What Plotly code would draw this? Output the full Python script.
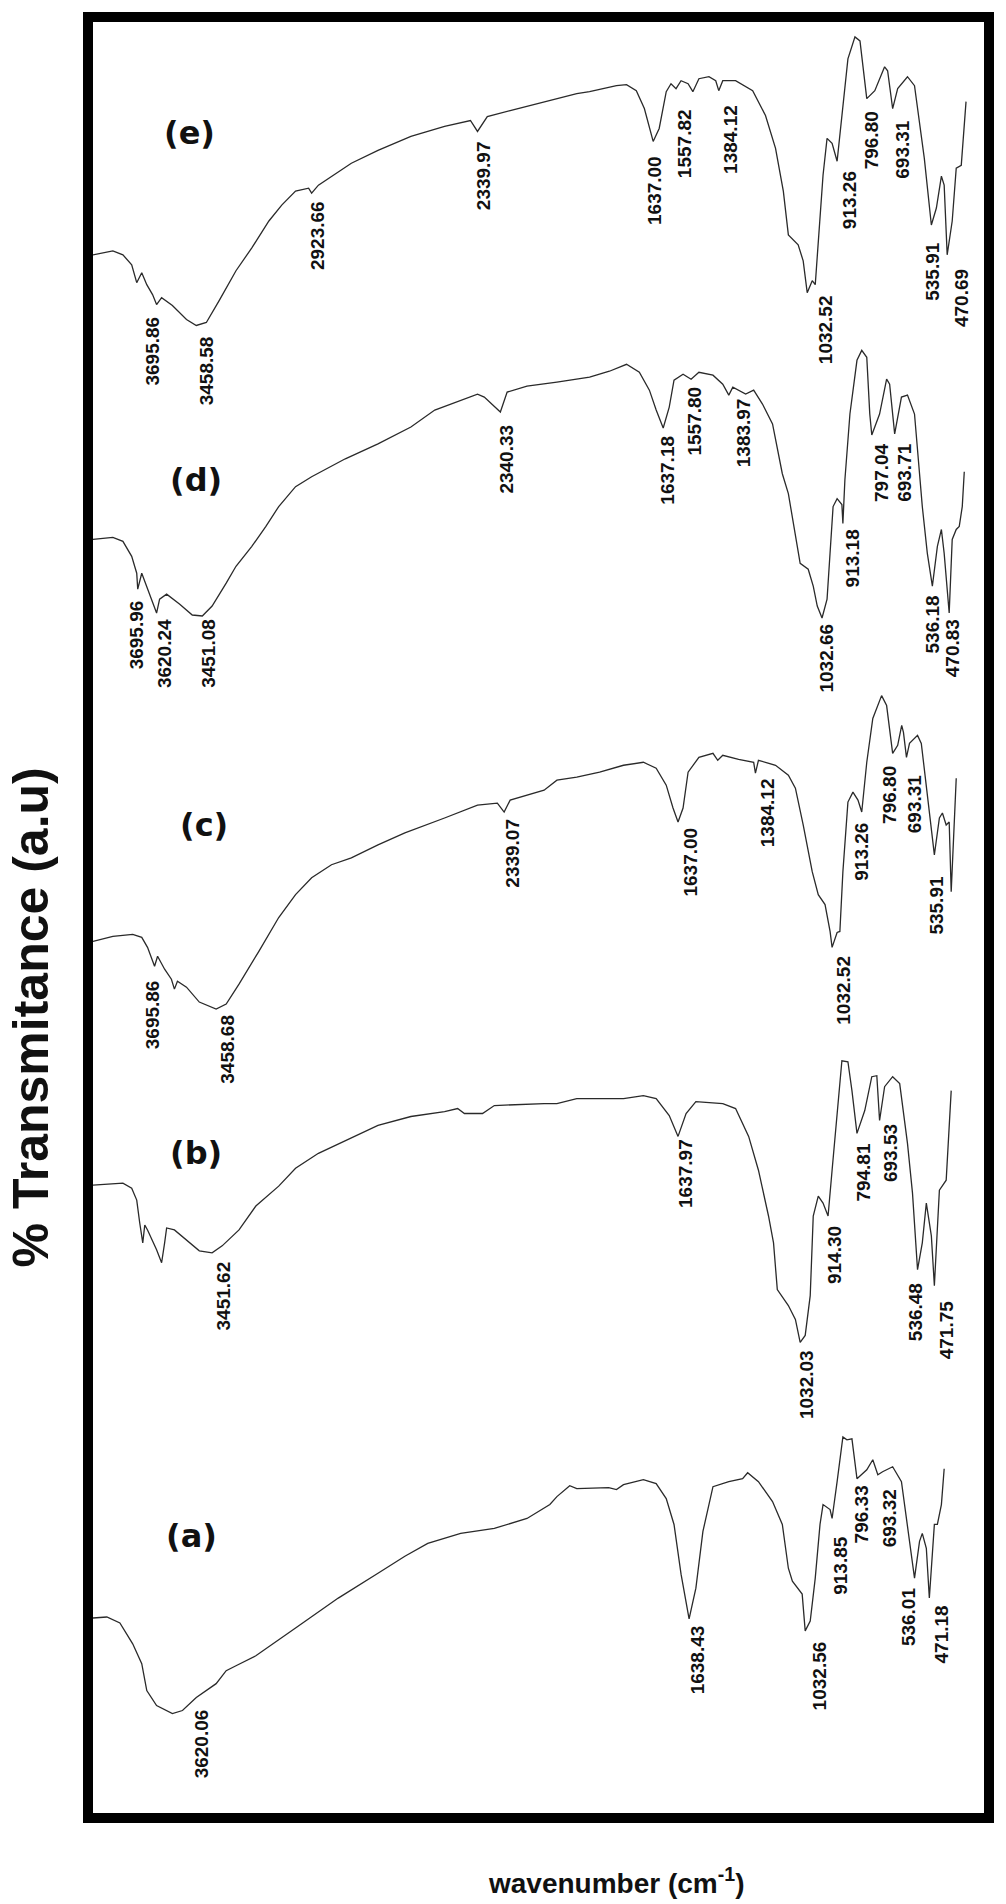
import plotly.graph_objects as go

# ---------------- spectra (wavenumber cm-1, transmittance a.u.) ----------------
wn_e = [3870, 3791, 3751, 3716, 3696, 3676, 3656, 3633, 3617, 3597, 3554, 3498, 3459, 3419, 3368,
        3301, 3238, 3170, 3119, 3064, 3012, 3000, 2973, 2921, 2842, 2736, 2605, 2471, 2368, 2340,
        2301, 2210, 2075, 2024, 1945, 1894, 1787, 1747, 1708, 1676, 1641, 1617, 1589, 1570, 1550,
        1530, 1502, 1483, 1459, 1419, 1392, 1380, 1364, 1313, 1245, 1194, 1154, 1123, 1103, 1064,
        1044, 1028, 1008, 996, 984, 965, 949, 929, 909, 890, 866, 838, 818, 791, 759,
        720, 708, 688, 668, 629, 601, 562, 534, 514, 494, 483, 471, 451, 435, 415, 411, 396]
t_e = [157.3, 157.7, 157.3, 156.3, 154.5, 155.5, 154.3, 153.3, 152.3, 153.0, 152.2, 150.8, 150.2, 150.5, 152.7,
       155.7, 158.0, 160.7, 162.3, 163.7, 164.0, 163.5, 164.3, 165.2, 166.5, 167.8, 169.2, 170.2, 170.8, 169.7,
       171.2, 171.8, 172.7, 173.0, 173.5, 173.7, 174.3, 174.4, 173.8, 172.0, 168.7, 170.0, 173.7, 174.5, 174.0,
       174.8, 174.5, 173.7, 175.0, 175.2, 174.8, 173.8, 174.8, 174.8, 173.8, 171.3, 168.0, 163.7, 159.3, 158.3,
       156.7, 153.5, 154.7, 154.3, 158.7, 165.3, 169.0, 168.5, 166.7, 171.0, 177.0, 179.2, 178.8, 173.0, 173.8,
       176.2, 175.8, 172.0, 174.0, 175.2, 174.3, 167.0, 160.3, 162.0, 165.2, 164.3, 157.3, 160.7, 166.0, 166.3, 167.7, 172.7]

wn_d = [3870, 3791, 3751, 3716, 3696, 3692, 3676, 3656, 3637, 3617, 3605, 3577, 3526, 3475, 3435,
        3396, 3340, 3301, 3238, 3182, 3131, 3064, 3000, 2866, 2736, 2605, 2510, 2407, 2340, 2313,
        2249, 2222, 2143, 2024, 1894, 1815, 1747, 1696, 1656, 1629, 1601, 1577, 1558, 1522, 1490,
        1459, 1403, 1364, 1340, 1324, 1273, 1241, 1206, 1166, 1127, 1103, 1075, 1056, 1024, 1004,
        988, 969, 949, 937, 925, 909, 890, 886, 878, 858, 830, 811, 791, 779, 771,
        740, 712, 700, 680, 653, 629, 601, 570, 550, 530, 510, 494, 483, 463, 451, 435, 423, 411, 403]
t_d = [128.7, 128.9, 128.5, 127.0, 125.3, 123.7, 125.3, 124.0, 122.7, 121.3, 122.7, 123.2, 122.2, 121.1, 121.0,
       122.0, 124.3, 126.0, 128.0, 130.0, 132.0, 134.0, 135.0, 136.8, 138.3, 140.0, 141.7, 142.7, 143.3, 143.0,
       141.5, 143.5, 144.1, 144.5, 145.0, 145.6, 146.3, 145.5, 143.7, 141.7, 139.9, 142.0, 144.7, 145.3, 144.8,
       145.5, 145.2, 144.3, 143.2, 144.0, 143.3, 143.7, 142.3, 140.3, 135.3, 133.3, 129.3, 126.3, 125.7, 124.0,
       122.0, 120.8, 122.7, 127.3, 132.0, 132.8, 132.2, 130.3, 134.7, 141.3, 146.7, 147.7, 147.0, 141.3, 139.2,
       141.3, 144.8, 144.3, 139.3, 143.0, 143.2, 141.3, 132.0, 127.3, 124.0, 128.0, 129.7, 127.3, 121.3, 128.7,
       129.7, 130.0, 132.0, 135.5]

wn_c = [3870, 3791, 3712, 3676, 3653, 3637, 3625, 3613, 3585, 3558, 3546, 3534, 3498, 3447, 3380,
        3340, 3289, 3210, 3131, 3064, 3000, 2921, 2842, 2736, 2629, 2471, 2340, 2261, 2234, 2210,
        2075, 2024, 1945, 1854, 1759, 1680, 1629, 1589, 1562, 1542, 1522, 1502, 1459, 1403, 1384,
        1364, 1301, 1241, 1234, 1222, 1154, 1103, 1075, 1044, 1008, 984, 957, 937, 929, 909,
        898, 886, 866, 846, 826, 811, 791, 767, 732, 712, 700, 688, 668, 652, 645,
        633, 621, 589, 574, 550, 522, 502, 490, 475, 463, 455, 443, 435]
t_c = [88.3, 88.8, 89.0, 88.7, 87.7, 86.7, 85.8, 86.8, 85.5, 84.5, 83.5, 84.3, 83.7, 82.2, 81.5,
       82.0, 84.0, 87.3, 90.7, 93.0, 94.7, 96.0, 96.7, 98.0, 99.2, 100.7, 102.0, 102.2, 101.3, 102.5,
       103.5, 104.5, 104.8, 105.3, 106.0, 106.3, 105.7, 104.0, 101.7, 100.3, 101.7, 105.3, 106.8, 107.2, 106.5,
       107.0, 106.6, 106.3, 105.2, 106.5, 106.0, 105.0, 103.7, 100.0, 95.3, 93.0, 92.0, 89.3, 87.7, 89.2,
       89.3, 95.3, 102.3, 103.3, 102.5, 101.3, 106.3, 110.7, 113.0, 112.0, 109.3, 107.2, 108.0, 110.0, 109.3,
       106.8, 108.2, 109.0, 108.2, 103.0, 97.0, 100.7, 101.2, 100.0, 100.3, 93.3, 100.7, 104.7]

wn_b = [3870, 3751, 3716, 3696, 3684, 3672, 3664, 3653, 3617, 3597, 3585, 3577, 3546, 3498, 3447,
        3396, 3356, 3289, 3222, 3131, 3064, 2973, 2866, 2736, 2605, 2471, 2419, 2392, 2320, 2273,
        2075, 2024, 1945, 1759, 1680, 1629, 1577, 1542, 1510, 1471, 1364, 1313, 1261, 1222, 1182,
        1162, 1147, 1103, 1075, 1056, 1036, 1016, 1004, 984, 965, 945, 929, 909, 890, 866,
        850, 830, 799, 771, 751, 740, 720, 688, 660, 629, 609, 589, 570, 554, 534,
        522, 502, 475, 463, 455]
t_b = [63.8, 64.0, 63.5, 62.3, 60.0, 58.0, 59.8, 59.3, 57.3, 56.0, 58.0, 59.5, 59.3, 58.3, 57.2,
       57.0, 57.7, 59.3, 61.7, 63.7, 65.5, 67.0, 68.3, 69.8, 70.7, 71.2, 71.5, 71.0, 71.0, 71.8,
       72.0, 72.0, 72.5, 72.5, 72.8, 72.5, 70.8, 68.7, 71.0, 72.2, 72.0, 71.5, 68.7, 65.3, 60.7,
       58.0, 53.3, 51.7, 50.3, 48.0, 48.7, 52.7, 60.7, 62.7, 62.0, 60.7, 65.3, 71.3, 76.3, 76.2,
       73.3, 69.0, 71.3, 74.7, 74.8, 70.3, 73.7, 74.7, 74.0, 68.0, 63.0, 55.3, 58.0, 62.0, 58.7,
       53.7, 63.3, 64.3, 69.7, 73.3]

wn_a = [3870, 3815, 3763, 3712, 3676, 3656, 3617, 3554, 3514, 3459, 3380, 3340, 3301, 3222, 3064,
        2894, 2736, 2629, 2538, 2407, 2273, 2143, 2052, 2024, 1973, 1945, 1818, 1787, 1759, 1680,
        1629, 1589, 1558, 1530, 1498, 1471, 1443, 1403, 1340, 1285, 1265, 1222, 1166, 1127, 1103,
        1087, 1048, 1036, 1016, 996, 977, 965, 937, 929, 909, 886, 870, 850, 830, 791,
        767, 747, 728, 688, 653, 629, 601, 581, 570, 554, 542, 522, 510, 494, 483]
t_a = [20.3, 20.4, 19.8, 17.7, 15.7, 13.0, 11.5, 10.7, 11.0, 12.3, 13.7, 15.0, 15.5, 16.5, 19.3,
       22.3, 24.8, 26.5, 27.8, 28.8, 29.3, 30.3, 31.7, 32.5, 33.6, 33.3, 33.4, 33.2, 33.7, 34.2,
       33.8, 32.3, 29.7, 24.7, 20.2, 23.3, 29.0, 33.5, 34.0, 34.3, 34.9, 34.0, 32.0, 29.7, 25.3,
       24.0, 22.7, 19.0, 20.0, 24.3, 29.7, 31.7, 31.2, 30.3, 34.0, 38.5, 38.2, 38.3, 34.3, 35.2,
       36.2, 34.7, 35.0, 35.5, 34.0, 29.7, 24.3, 28.0, 28.8, 27.3, 22.3, 29.7, 29.7, 31.7, 35.3]

# ---------------- peak labels ----------------
peak_text_e = ["3695.86", "3458.58", "2923.66", "2339.97", "1637.00", "1557.82", "1384.12",
               "1032.52", "913.26", "796.80", "693.31", "535.91", "470.69"]
peak_x_e = [3637, 3415, 2977, 2313, 1633, 1518, 1336, 957, 862, 771, 652, 530, 415]
peak_y_e = [151.2, 149.2, 162.8, 168.8, 167.3, 172.0, 172.5, 153.3, 165.8, 171.8, 171.0, 158.7, 156.0]

peak_text_d = ["3695.96", "3620.24", "3451.08", "2340.33", "1637.18", "1557.80", "1383.97",
               "1032.66", "913.18", "797.04", "693.71", "536.18", "470.83"]
peak_x_d = [3696, 3585, 3411, 2226, 1585, 1475, 1281, 953, 846, 732, 641, 530, 451]
peak_y_d = [122.7, 120.8, 120.8, 140.3, 139.2, 144.2, 143.0, 120.3, 129.8, 138.5, 138.5, 123.2, 120.8]

peak_text_c = ["3695.86", "3458.68", "2339.07", "1637.00", "1384.12", "1032.52", "913.26",
               "796.80", "693.31", "535.91"]
peak_x_c = [3633, 3336, 2202, 1494, 1186, 882, 811, 700, 601, 514]
peak_y_c = [84.5, 81.0, 100.7, 99.8, 104.8, 87.0, 100.3, 106.0, 105.2, 95.0]

peak_text_b = ["3451.62", "1637.97", "1032.03", "914.30", "794.81", "693.53", "536.48", "471.75"]
peak_x_b = [3352, 1510, 1028, 917, 803, 696, 597, 475]
peak_y_b = [56.2, 68.5, 47.3, 59.8, 68.2, 70.0, 54.0, 52.3]

peak_text_a = ["3620.06", "1638.43", "1032.56", "913.85", "796.33", "693.32", "536.01", "471.18"]
peak_x_a = [3439, 1463, 981, 894, 811, 700, 625, 494]
peak_y_a = [11.2, 19.7, 18.0, 28.7, 33.7, 33.3, 23.5, 21.7]

sample_names = ["(a)", "(b)", "(c)", "(d)", "(e)"]
sample_x = [3479, 3459, 3427, 3459, 3486]
sample_y = [28.5, 67.0, 100.0, 134.7, 169.5]

x_title = "wavenumber (cm<sup>-1</sup>)"
y_title = "% Transmitance (a.u)"

# ---------------- figure ----------------
fig = go.Figure()
line_style = dict(color="#2a2a2a", width=1.3)
for wn, t in [(wn_a, t_a), (wn_b, t_b), (wn_c, t_c), (wn_d, t_d), (wn_e, t_e)]:
    fig.add_trace(go.Scatter(x=wn, y=t, mode="lines", line=line_style,
                             showlegend=False, hoverinfo="skip"))

annotations = []
label_font = dict(family="Liberation Sans, Arial, sans-serif", size=19, color="#111111",
                  weight="bold")
for texts, xs, ys in [(peak_text_a, peak_x_a, peak_y_a), (peak_text_b, peak_x_b, peak_y_b),
                      (peak_text_c, peak_x_c, peak_y_c), (peak_text_d, peak_x_d, peak_y_d),
                      (peak_text_e, peak_x_e, peak_y_e)]:
    for txt, xv, yv in zip(texts, xs, ys):
        annotations.append(dict(x=xv, y=yv, xref="x", yref="y", text=txt, textangle=-90,
                                xanchor="center", yanchor="top", showarrow=False,
                                font=label_font, borderpad=0))

for name, xv, yv in zip(sample_names, sample_x, sample_y):
    annotations.append(dict(x=xv, y=yv, xref="x", yref="y", text=name, showarrow=False,
                            xanchor="center", yanchor="middle",
                            font=dict(family="DejaVu Sans, Verdana, sans-serif", size=32,
                                      color="#111111", weight="bold")))

annotations.append(dict(x=0.588, y=-0.038, xref="paper", yref="paper", text="<b>" + x_title + "</b>",
                        showarrow=False, xanchor="center", yanchor="middle",
                        font=dict(family="Liberation Sans, Arial, sans-serif", size=28, color="#111111")))
annotations.append(dict(x=-0.07, y=0.444, xref="paper", yref="paper", text="<b>" + y_title + "</b>",
                        textangle=-90, showarrow=False, xanchor="center", yanchor="middle",
                        font=dict(family="Liberation Sans, Arial, sans-serif", size=50, color="#111111")))

fig.update_layout(
    width=1006, height=1904,
    margin=dict(l=93, r=16, t=13, b=91),
    paper_bgcolor="white", plot_bgcolor="white",
    annotations=annotations,
    xaxis=dict(range=[3870, 324.5], showgrid=False, zeroline=False, showticklabels=False,
               ticks="", showline=True, mirror=True, linewidth=10, linecolor="black"),
    yaxis=dict(range=[0.7, 180.7], showgrid=False, zeroline=False, showticklabels=False,
               ticks="", showline=True, mirror=True, linewidth=10, linecolor="black"),
)

fig.write_html("out.html", config={"displayModeBar": False, "staticPlot": True},
               post_script="document.body.style.margin='0';document.body.style.padding='0';")
